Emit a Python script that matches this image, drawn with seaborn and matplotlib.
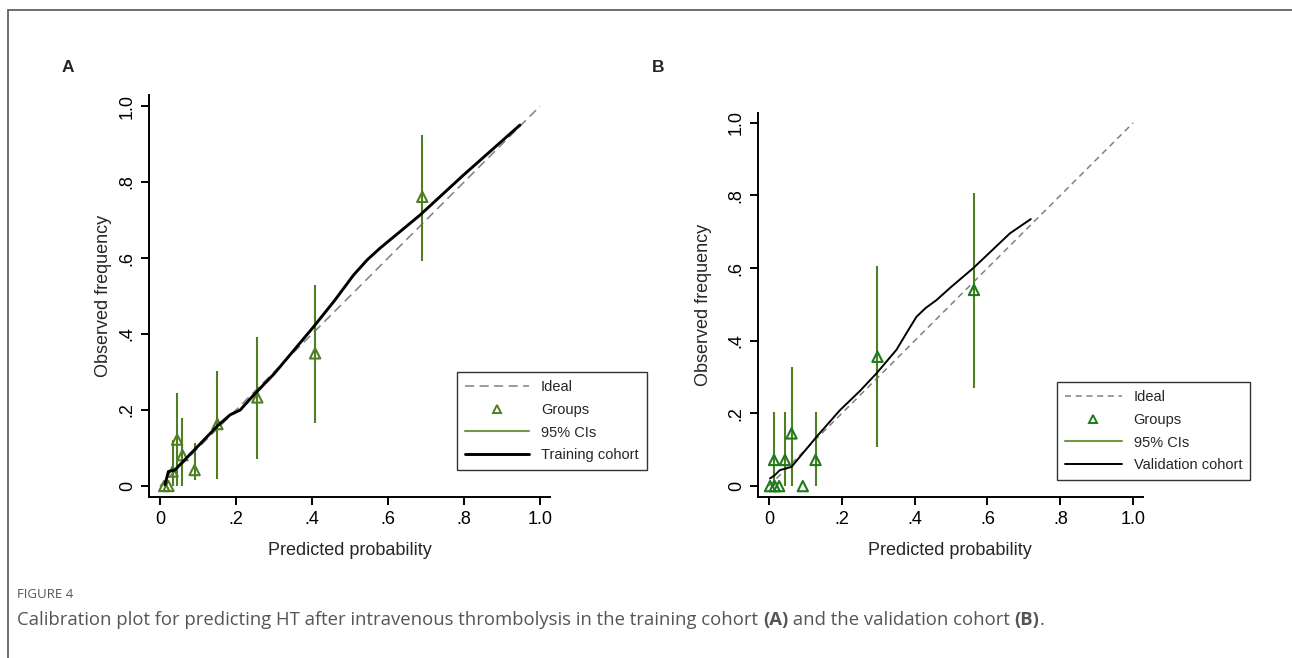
import matplotlib

matplotlib.use("Agg")
import matplotlib.pyplot as plt
import pandas as pd
import seaborn as sns
from matplotlib.lines import Line2D


TICKS = [0, 0.2, 0.4, 0.6, 0.8, 1.0]
TICK_LABELS = ["0", ".2", ".4", ".6", ".8", "1.0"]
IDEAL = [0.0, 1.0]

# panel A - training cohort
train_group_x = [0.011, 0.022, 0.033, 0.045, 0.059, 0.091, 0.151, 0.256, 0.408, 0.690]
train_group_y = [0.0, 0.0, 0.038, 0.122, 0.081, 0.042, 0.163, 0.233, 0.349, 0.761]
train_ci_lo = [0.0, 0.0, 0.0, 0.0, 0.0, 0.016, 0.018, 0.070, 0.165, 0.593]
train_ci_hi = [0.0, 0.0, 0.121, 0.246, 0.179, 0.113, 0.303, 0.393, 0.529, 0.925]
train_smooth_x = [0.013, 0.022, 0.039, 0.100, 0.149, 0.184, 0.211, 0.246, 0.300, 0.404,
                  0.460, 0.509, 0.545, 0.579, 0.684, 0.798, 0.947]
train_smooth_y = [0.003, 0.038, 0.042, 0.105, 0.156, 0.187, 0.200, 0.239, 0.295, 0.419,
                  0.489, 0.555, 0.595, 0.626, 0.713, 0.818, 0.950]

# panel B - validation cohort
valid_group_x = [0.003, 0.014, 0.016, 0.028, 0.044, 0.062, 0.093, 0.128, 0.298, 0.563]
valid_group_y = [0.0, 0.072, 0.0, 0.0, 0.072, 0.145, 0.0, 0.072, 0.356, 0.540]
valid_ci_lo = [0.0, 0.0, 0.0, 0.0, 0.0, 0.0, 0.0, 0.0, 0.108, 0.269]
valid_ci_hi = [0.0, 0.205, 0.0, 0.0, 0.205, 0.327, 0.0, 0.205, 0.607, 0.808]
valid_smooth_x = [0.003, 0.016, 0.030, 0.062, 0.131, 0.195, 0.250, 0.295, 0.350, 0.380,
                  0.405, 0.430, 0.460, 0.500, 0.561, 0.662, 0.719]
valid_smooth_y = [0.021, 0.030, 0.044, 0.053, 0.136, 0.209, 0.262, 0.310, 0.375, 0.425,
                  0.466, 0.490, 0.512, 0.548, 0.600, 0.696, 0.735]

CI_GREEN = "#4e7f22"
LEGEND_CI_GREEN = "#6f9a45"
IDEAL_GRAY = "#808080"

W, H = 1292, 658


def px_box(left, top, right, bottom):
    return [left / W, 1 - bottom / H, (right - left) / W, (bottom - top) / H]


def draw_panel(ax, gx, gy, lo, hi, sx, sy, tri_color, smooth_lw, dash, xlim, ylim):
    sns.lineplot(x=IDEAL, y=IDEAL, ax=ax, color=IDEAL_GRAY, linewidth=1.1,
                 linestyle=(0, dash), estimator=None, sort=False)
    ax.vlines(gx, lo, hi, color=CI_GREEN, linewidth=1.5, zorder=2)
    sns.scatterplot(x=gx, y=gy, ax=ax, marker="^", s=55, facecolor="none",
                    edgecolor=tri_color, linewidth=1.5, zorder=3)
    sns.lineplot(x=sx, y=sy, ax=ax, color="black", linewidth=smooth_lw,
                 estimator=None, sort=False, zorder=4)

    ax.set_xlim(*xlim)
    ax.set_ylim(*ylim)
    ax.set_xticks(TICKS)
    ax.set_xticklabels(TICK_LABELS)
    ax.set_yticks(TICKS)
    ax.set_yticklabels(TICK_LABELS, rotation=90, va="center")
    ax.tick_params(direction="out", length=6, width=1.4, labelsize=13, colors="black", pad=3.5)
    ax.tick_params(axis="x", pad=4)
    for side in ["left", "bottom"]:
        ax.spines[side].set_linewidth(1.4)
        ax.spines[side].set_color("black")
    sns.despine(ax=ax)
    ax.set_xlabel("Predicted probability", fontsize=13)
    ax.set_ylabel("Observed frequency", fontsize=13)


def add_legend(fig, ax, anchor_px, last_label, tri_color, smooth_lw, dash, handle_len):
    handles = [
        Line2D([], [], color=IDEAL_GRAY, linewidth=1.1, linestyle=(0, dash)),
        Line2D([], [], color=tri_color, marker="^", markerfacecolor="none",
               markeredgewidth=1.4, markersize=6, linestyle="none"),
        Line2D([], [], color=LEGEND_CI_GREEN, linewidth=1.5),
        Line2D([], [], color="black", linewidth=smooth_lw),
    ]
    labels = ["Ideal", "Groups", "95% CIs", last_label]
    leg = ax.legend(handles, labels, loc="upper left",
                    bbox_to_anchor=(anchor_px[0] / W, 1 - anchor_px[1] / H),
                    bbox_transform=fig.transFigure, fontsize=10.5, frameon=True,
                    fancybox=False, edgecolor="#333333", framealpha=1,
                    handlelength=handle_len, handletextpad=0.8, labelspacing=0.6,
                    borderpad=0.55, borderaxespad=0)
    leg.get_frame().set_linewidth(1.0)


def caption_line(fig, x, y, parts, **kw):
    renderer = fig.canvas.get_renderer()

    def width(text, weight):
        t = fig.text(0, 0, text, fontweight=weight, **kw)
        w = t.get_window_extent(renderer).width
        t.remove()
        return w

    for text, weight in parts:
        fig.text(x / W, 1 - y / H, text, fontweight=weight, va="center", ha="left", **kw)
        x += width("x" + text + "x", weight) - width("xx", weight)


def main():
    sns.set_theme(style="ticks")
    plt.rcParams["font.family"] = ["Liberation Sans", "DejaVu Sans"]

    fig = plt.figure(figsize=(W / 100, H / 100), dpi=100)
    fig.patch.set_facecolor("white")

    ax_a = fig.add_axes(px_box(149, 95, 550, 497))
    ax_b = fig.add_axes(px_box(758, 113, 1143, 497))
    for ax in (ax_a, ax_b):
        ax.set_facecolor("white")

    draw_panel(ax_a, train_group_x, train_group_y, train_ci_lo, train_ci_hi,
               train_smooth_x, train_smooth_y, CI_GREEN, 2.1, (6, 3.5),
               (-0.029, 1.026), (-0.029, 1.029))
    draw_panel(ax_b, valid_group_x, valid_group_y, valid_ci_lo, valid_ci_hi,
               valid_smooth_x, valid_smooth_y, "#1d7a1d", 1.4, (4, 3),
               (-0.030, 1.027), (-0.030, 1.027))

    ax_a.yaxis.set_label_coords(-0.092, 0.5)
    ax_a.xaxis.set_label_coords(0.501, -0.112)
    ax_b.yaxis.set_label_coords(-0.119, 0.5)
    ax_b.xaxis.set_label_coords(0.499, -0.118)

    add_legend(fig, ax_a, (457, 372), "Training cohort", CI_GREEN, 2.1, (6, 3.5), 4.4)
    add_legend(fig, ax_b, (1057, 382), "Validation cohort", "#1d7a1d", 1.4, (4, 3), 3.9)

    fig.text(68 / W, 1 - 67 / H, "A", fontsize=12.5, fontweight="bold", ha="center", va="center")
    fig.text(658 / W, 1 - 67 / H, "B", fontsize=12.5, fontweight="bold", ha="center", va="center")

    # frame lines of the figure box
    fig.add_artist(Line2D([8 / W, 1], [1 - 10 / H, 1 - 10 / H], color="#555555", linewidth=1.2))
    fig.add_artist(Line2D([8 / W, 8 / W], [0, 1 - 10 / H], color="#555555", linewidth=1.2))

    fig.text(17 / W, 1 - 595 / H, "FIGURE 4", fontsize=9.5, color="#555555",
             family=["Open Sans", "DejaVu Sans"], va="center", ha="left")
    caption_line(
        fig, 17, 620,
        [
            ("Calibration plot for predicting HT after intravenous thrombolysis in the training cohort ", "normal"),
            ("(A)", "bold"),
            (" and the validation cohort ", "normal"),
            ("(B)", "bold"),
            (".", "normal"),
        ],
        fontsize=13.3, color="#555555", family=["Open Sans", "DejaVu Sans"],
    )

    fig.savefig("out.png", dpi=100, facecolor="white")
    plt.close(fig)


if __name__ == "__main__":
    main()
